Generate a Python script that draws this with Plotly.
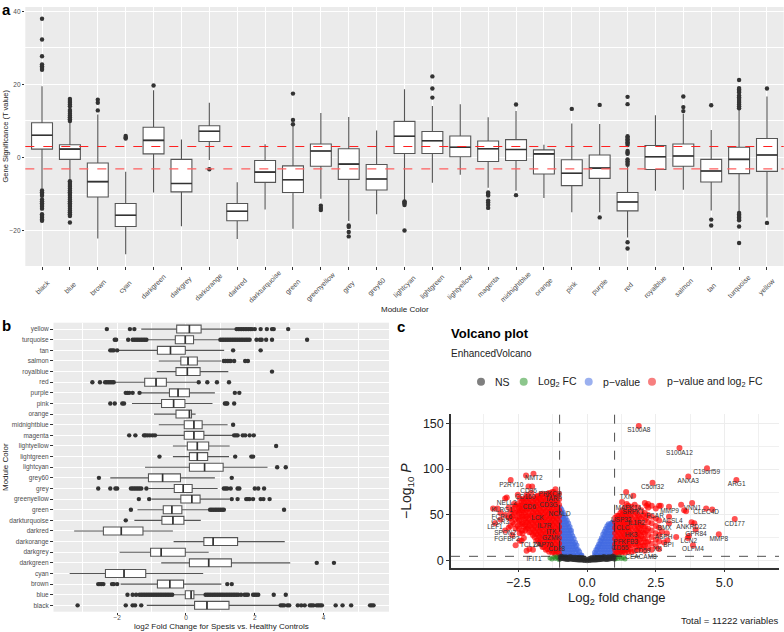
import plotly.graph_objects as go

W, H = 784, 632
# ---------- panel a data: gene significance ----------
A_CATS = ["black","blue","brown","cyan","darkgreen","darkgrey","darkorange","darkred","darkturquoise","green",
          "greenyellow","grey","grey60","lightcyan","lightgreen","lightyellow","magenta","midnightblue","orange",
          "pink","purple","red","royalblue","salmon","tan","turquoise","yellow"]
A_Q1  = [2.3,-0.5,-10.8,-18.9,1.0,-9.4,4.4,-17.3,-6.8,-9.6,-2.4,-6.0,-8.9,1.1,1.1,0.2,-1.1,-0.8,-4.5,-7.7,-5.7,-14.6,-3.3,-2.4,-6.7,-4.4,-3.8]
A_MED = [6.1,2.3,-6.6,-15.8,4.7,-7.1,7.2,-14.7,-4.0,-6.1,1.8,-1.8,-5.9,5.8,4.6,2.8,2.4,2.2,1.0,-4.3,-2.9,-12.2,0.2,0.4,-3.7,-0.5,0.7]
A_Q3  = [9.5,3.5,-1.5,-12.6,8.3,-0.5,8.7,-12.6,-0.8,-2.3,3.7,2.4,-1.9,9.9,7.1,5.9,4.5,4.9,2.1,-0.6,0.7,-9.6,3.3,3.7,-0.5,2.8,5.2]
A_LOW = [-8.5,-6.2,-22.2,-26.5,-9.6,-18.8,-0.7,-22.3,-14.2,-19.5,-11.3,-17.4,-15.5,-11.7,-6.9,-4.7,-8.3,-9.1,-11.1,-15.0,-15.0,-21.9,-9.1,-8.8,-14.5,-14.9,-16.4]
A_UP  = [19.5,9.5,11.8,-3.9,18.4,4.9,15.0,-6.8,3.6,8.9,12.2,11.1,7.4,18.7,14.1,14.6,11.0,12.7,3.5,9.3,9.2,-2.6,11.6,12.0,7.5,13.0,16.7]
A_OUT = {
 "black":[38,32.3,27.7,25.5,25,24.5,24,-9,-9.5,-10,-10.5,-11.5,-12,-12.5,-13,-13.5,-14,-15.5,-16,-16.5,-17,-17.3],
 "blue":[16,15.5,15,14.5,14,13,12.5,12,11.5,11,10.5,10,-6.5,-7,-7.5,-8,-8.5,-9,-9.5,-10,-10.5,-11,-11.5,-12,-12.5,-13,-13.5,-14,-14.5,-15,-15.5,-16,-17.8],
 "brown":[15.8,15,12.9], "cyan":[5.9,5.5,5.2], "darkgreen":[19.7], "darkorange":[-3.2],
 "green":[17.5,10.3,9.1], "greenyellow":[-13.2,-13.8,-14.4], "grey":[-18.6,-19,-20.4,-21.6],
 "lightcyan":[-12,-12.3,-12.6,-13,-20], "lightgreen":[22.2,18.9,16.4],
 "magenta":[-9.6,-10,-10.4,-11.8,-12.3,-13,-13.8], "midnightblue":[14.5,-10.3], "pink":[13.3], "purple":[14.4,-16.4],
 "red":[16.6,14.6,5.8,5.4,5,4.6,4.2,3.8,3.4,1.8,1.4,1,-0.5,-1,-1.5,-2,-23.2,-24.9],
 "salmon":[16.7,13.8,12.7], "tan":[14.3,-17,-18.6],
 "turquoise":[21.2,19,18.6,18.2,17.8,17,16.5,16,15.5,15,14.5,14,13.5,-15.2,-15.6,-16,-16.4,-16.8,-17.2,-18.9,-23.4],
 "yellow":[18.9,-17.9],
}
# ---------- panel b data: fold change ----------
B_Q1  = [0.25,-0.02,-0.83,-2.34,0.1,-1.03,0.52,-2.4,-0.7,-0.66,-0.15,-0.34,-1.09,0.1,0.1,0.04,-0.05,-0.05,-0.29,-0.71,-0.48,-1.2,-0.29,-0.15,-0.83,-0.31,-0.27]
B_MED = [0.61,0.15,-0.47,-1.8,0.66,-0.72,0.79,-1.88,-0.38,-0.41,0.17,-0.08,-0.68,0.54,0.33,0.33,0.23,0.23,0.1,-0.36,-0.23,-0.87,0.04,0.06,-0.45,-0.02,0.1]
B_Q3  = [1.25,0.23,-0.07,-1.17,1.32,-0.02,1.5,-1.25,-0.06,-0.12,0.41,0.18,-0.16,1.08,0.63,0.66,0.52,0.47,0.16,-0.03,0.1,-0.57,0.41,0.33,-0.02,0.22,0.44]
B_LOW = [-1.14,-0.35,-1.9,-3.38,-0.72,-1.93,-0.36,-3.25,-1.5,-1.41,-1.0,-1.09,-2.2,-1.19,-0.38,-0.38,-0.87,-0.79,-0.93,-1.57,-1.33,-2.05,-0.85,-0.79,-1.95,-1.14,-1.3]
B_UP  = [2.7,0.55,1.03,0.5,3.03,0.66,2.87,-0.38,0.43,0.68,1.27,0.92,0.84,2.37,1.25,1.27,1.37,1.21,0.28,0.77,0.84,0.31,1.23,1.02,1.11,0.96,1.44]
B_OUT = {
 "black":[-3.15,-1.75,-1.55,-1.48,-1.3,2.75,2.8,2.85,2.95,3.0,3.25,3.35,3.45,3.6,3.65,3.7,3.8,3.85,3.9,3.95,4.35,4.55,4.8,5.35,5.4,5.45],
 "blue":[-1.7,-1.55,-1.45,-1.35,-1.3,-1.25,-1.2,-1.15,-1.1,-1.05,-1.0,-0.95,-0.9,-0.85,-0.8,-0.75,-0.7,-0.65,-0.6,-0.55,-0.5,-0.45,-0.4,
         0.57,0.62,0.67,0.72,0.77,0.82,0.87,0.92,0.97,1.02,1.07,1.12,1.17,1.22,1.27,1.32,1.37,1.42,1.47,1.52,1.6,1.7,1.75,1.8,1.95,2.0,2.05,2.1,2.55,2.9],
 "brown":[-2.55,-2.5,-2.45,-2.4,-2.15,-2.1,-2.0,1.2,1.33],
 "darkgreen":[3.8,4.3], "darkturquoise":[-1.75],
 "green":[-1.6,0.7,0.75,0.8,0.85,0.9,0.95,1.0,1.05,1.1,2.85],
 "greenyellow":[-1.37,-1.07,1.33,1.5,1.75,1.8,1.85,1.95,2.17,2.25,2.43],
 "grey":[-2.55,-2.2,-2.05,-2.0,-1.6,-1.55,-1.5,-1.45,-1.4,-1.35,-1.3,-1.15,1.1,1.15,1.2,1.3,1.5,1.55,2.0,2.1,2.27],
 "grey60":[-2.53,1.33], "lightcyan":[2.65,2.9], "lightgreen":[-0.77,1.43,1.9,1.95], "lightyellow":[2.62],
 "magenta":[-1.65,-1.47,-1.22,-1.18,-1.12,-1.05,-0.97,-0.9,1.4,1.45,1.5,1.65,1.72,1.85,1.97],
 "midnightblue":[1.37], "pink":[-2.2,-2.07,-1.85,-1.8,1.13,1.17,1.2,1.4], "purple":[-1.75,-1.7,-1.65,-1.55,-1.35,1.42,1.55],
 "red":[-2.72,-2.5,-2.35,-2.3,-2.25,-2.2,-2.15,-2.1,0.37,0.62,0.9,1.25], "royalblue":[2.5],
 "salmon":[1.1,1.15,1.2,1.25,1.3,1.4,1.72,1.8], "tan":[-2.2,-2.15,-2.1,-2.0,1.37,2.17],
 "turquoise":[-2.07,-2.03,-1.68,-1.55,-1.5,-1.45,-1.4,-1.35,-1.3,-1.25,-1.2,-1.15,1.0,1.05,1.1,1.15,1.2,1.25,1.3,1.35,1.4,1.45,1.5,1.55,1.6,1.65,1.7,1.75,1.8,1.85,2.05,2.15,2.2,2.33,2.5,3.52],
 "yellow":[-2.3,-1.63,-1.5,1.47,1.52,1.57,1.62,1.67,1.72,1.77,1.82,1.87,1.92,2.0,2.17,2.35,2.5,2.55,2.97],
}
# ---------- panel c data: volcano (columns: x -> list of y) ----------
RED_LEFT = {
 -1.02:[8,13,19,25,31,37,43,49,55,61,67,73], -1.09:[10,16,22,28,34,40,46,52,58,64,70], -1.15:[7,12,18,24,30,36,42,48,54,60,66,72,78],
 -1.21:[10,15,21,27,33,39,45,51,57,63,69,75], -1.27:[9,15,21,27,33,39,45,51,57,63,69,75], -1.33:[12,18,24,30,36,42,48,54,60,66,72],
 -1.38:[10,16,22,28,34,40,46,52,58,64,70,74], -1.44:[13,19,25,31,37,43,49,55,61,67,73], -1.50:[12,18,24,30,36,42,48,54,60,66,72],
 -1.56:[15,21,27,33,39,45,51,57,63,69], -1.62:[15,21,27,33,39,45,51,57,63,69,73], -1.68:[18,24,30,36,42,48,54,60,66,72],
 -1.73:[20,26,32,38,44,50,56,62,68], -1.79:[23,29,35,41,47,53,59,65,71], -1.85:[22,29,35,41,47,53,59,65,70],
 -1.91:[26,32,38,44,50,56,62,68], -1.97:[12,28,34,40,46,52,58,64], -2.03:[31,37,43,49,55,61,67,74],
 -2.10:[31,38,44,50,56,62,68,13], -2.15:[36,42,49,57,63,70], -2.20:[35,42,48,55,60,66,72,11], -2.25:[33,39,46,53,60,68],
 -2.30:[37,45,52,58,64,25], -2.35:[30,40,48,55,61,67], -2.38:[33,42,50,57,64,22], -2.45:[30,40,48,55,60,68,22], -2.48:[35,44,52,58],
 -2.52:[38,46,54,62,72], -2.60:[35,45,52,60,17], -2.66:[40,50,57,62], -2.72:[42,48,55,28], -2.79:[38,52,46], -2.85:[36,47,58],
 -2.98:[33,50,68], -3.15:[45,52], -3.42:[57], -3.26:[57], -3.35:[41],
 -1.95:[95], -2.22:[93], -2.78:[88], -2.13:[81], -2.0:[81], -2.92:[69],
}
RED_RIGHT = {
 1.02:[7,12,18,24,30,36,42,47], 1.09:[9,15,21,27,33,39,45,49], 1.15:[8,13,19,25,31,37,43,49], 1.21:[10,16,22,28,34,40,46,52],
 1.27:[9,14,20,26,32,38,44,50,55,64], 1.33:[11,17,23,29,35,41,47,53], 1.38:[9,15,21,27,33,39,45,51,58], 1.44:[12,18,24,30,36,42,48,54,62],
 1.5:[10,16,22,28,34,40,46,52,60], 1.56:[13,19,25,31,37,43,49,55], 1.62:[10,17,23,29,35,41,47,53,59], 1.68:[14,20,26,32,38,44,50,56],
 1.73:[11,18,24,30,36,42,48,54,61], 1.79:[15,21,27,33,39,45,52], 1.85:[12,19,25,31,37,43,50,58], 1.91:[16,23,29,35,41,48],
 1.97:[13,20,27,33,39,46,55], 2.04:[17,24,31,38,50], 2.1:[11,17,24,30,37,44,52,63], 2.16:[20,33,47,60], 2.22:[14,21,28,35,42,50,58,62],
 2.35:[12,19,26,33,41,48,60], 2.5:[16,23,30,38,46,57], 2.62:[13,21,28,36,44,60],
 1.88:[147], 3.36:[123], 4.36:[101], 5.43:[88], 3.68:[92], 2.38:[85], 1.42:[75], 1.68:[71],
 2.68:[60], 2.98:[59,48,41], 3.42:[61], 3.82:[63], 4.33:[57], 4.55:[56], 3.53:[55], 3.6:[54], 5.37:[45.5],
 3.8:[42], 3.9:[41], 3.95:[34], 3.7:[27], 3.66:[25], 3.24:[26], 4.79:[29], 3.85:[17], 2.9:[30], 2.8:[20],
 2.92:[22.5], 2.72:[32],
}
BLUE_POINTS = {
 -0.98:[6,12,18,24,30,36,42,48,54,58], -0.93:[9,15,21,27,33,39,45,51,56], -0.88:[6,12,18,24,30,36,42,48,53],
 -0.83:[9,15,21,27,33,39,45,50], -0.78:[6,12,18,24,30,36,42,47], -0.73:[9,15,21,27,33,39,44],
 -0.68:[6,12,18,24,30,36,41], -0.63:[9,15,21,27,33,37], -0.58:[6,12,18,24,30,33], -0.53:[9,15,21,27],
 -0.48:[6,12,18,24], -0.43:[9,15,20], -0.38:[6,12,17], -0.33:[7,12], -0.28:[6,10], -0.23:[6], -0.2:[6],
 0.98:[6,12,18,24,30,36,41], 0.93:[9,15,21,27,33,39,42], 0.88:[6,12,18,24,30,36,41], 0.83:[9,15,21,27,33,39],
 0.78:[6,12,18,24,30,36,40], 0.73:[9,15,21,27,33,38], 0.68:[6,12,18,24,30,35], 0.63:[9,15,21,27,32],
 0.58:[6,12,18,24,29], 0.53:[9,15,21,25], 0.48:[6,12,18,22], 0.43:[9,15,18], 0.38:[6,12,15], 0.33:[8,12], 0.28:[6,9],
}
GREEN_POINTS = {-1.35:[3], -1.28:[2], -1.2:[4], -1.15:[2.5], -1.1:[4.5], -1.05:[3], -1.02:[1.5],
                1.02:[2], 1.06:[4], 1.12:[2.5], 1.18:[4.5], 1.25:[2.5], 1.32:[3.5], 1.38:[2]}
NS_POINTS = {
 -0.98:[2,4.5], -0.93:[3,5], -0.88:[2.5,4.5], -0.83:[2,4], -0.78:[2,4.5], -0.73:[1.5,4], -0.68:[1.5,4], -0.63:[2,4.5], -0.58:[2,4.5],
 -0.53:[1.5,3.5], -0.48:[1.5,4], -0.43:[1.2,4], -0.38:[1.2,3.5], -0.33:[1,3.5], -0.28:[1,4], -0.23:[1,3], -0.18:[0.8,3.5], -0.13:[0.5,3],
 -0.08:[0.3,2.5], 0.0:[0,1.5], 0.08:[0.4,2.5], 0.13:[0.5,3], 0.18:[0.8,3.5], 0.23:[1,3], 0.28:[1,4], 0.33:[1,3.5],
 0.38:[1.2,3.5], 0.43:[1.2,4], 0.48:[1.5,4], 0.53:[1.5,3.5], 0.58:[2,4.5], 0.63:[2,4.5], 0.68:[1.5,4], 0.73:[1.5,4], 0.78:[2,4.5],
 0.83:[2,4], 0.88:[2.5,4.5], 0.93:[3,5], 0.98:[2,4.5],
}
GENE_NAMES = ["S100A8","S100A12","C19orf59","ARG1","ANXA3","C5orf32","TXN","MMP9","VNN1","CLEC4D","CD177","ANKRD22",
              "GPR84","MMP8","LCN2","OLFM4","BPI","XK","CEACAM8","BMX","ASPH","ACSL4","SRPK1","FCAR","USP32","MAPK14",
              "NMT2","P2RY10","CD96","NELL2","KLRG1","FCRL6","CCR3","LEF1","SPON2","FGFBP2","TCL1A","IFIT1","CD160","PRKCH",
              "TARP","NCALD","LCK","IL7R","ITK","CD6","GZMK","ZAP70","CD28","CD3G","CLC","HK3","IL1R2","PFKFB3","CD55","CD59"]
GENE_X = [1.88,3.36,4.35,5.44,3.68,2.38,1.42,3.0,3.83,4.33,5.37,3.79,3.96,4.79,3.7,3.85,2.96,2.56,1.96,2.82,2.78,3.1,1.68,2.47,1.24,1.5,
          -1.94,-2.76,-2.13,-2.92,-3.09,-3.1,-3.16,-3.35,-2.98,-2.92,-2.07,-1.93,-2.25,-1.35,-1.22,-1.0,-1.8,-1.55,-1.3,-2.1,-1.3,-1.6,-1.1,-1.4,
          1.3,1.6,1.8,1.4,1.2,2.0]
GENE_Y = [142,117.5,96.5,83,86.5,80,69.5,54,57.5,52.7,40,36.7,28.7,23.6,21.5,12,16.4,12,3.3,35.6,25.8,42.5,52.7,48,43.6,57,
          90,82.5,76,63,55,47.6,41.8,36.4,30,23.6,16.7,2,69,72.7,67,51,46,38,31,58,24,17,12,60,
          35,28,41,20,14,10]
C_LEGEND = ["NS","Log<sub>2</sub> FC","p\u2212value","p\u2212value and log<sub>2</sub> FC"]
C_LEGEND_COLORS = ["#7f7f7f","#8cc68c","#9bb0ef","#f77f7f"]

# ---------- layout helpers (pixels to paper fractions) ----------
def px(x): return x / W
def py(y): return 1 - y / H
def flat(columns):
    xs, ys = [], []
    for x, vals in columns.items():
        for v in vals:
            xs.append(x); ys.append(v)
    return xs, ys
def note(text, x, y, size, xanchor="center", angle=0, color="#000000", bold=False):
    fig.add_annotation(text=f"<b>{text}</b>" if bold else text, xref="paper", yref="paper", x=px(x), y=py(y), showarrow=False,
                       xanchor=xanchor, yanchor="middle", textangle=angle, font=dict(size=size, color=color))

fig = go.Figure()
BOX = dict(fillcolor="#FFFFFF", line=dict(color="#555555", width=1.1), whiskerwidth=0, boxpoints=False, width=0.75,
           showlegend=False, hoverinfo="skip")
PT = dict(mode="markers", showlegend=False, hoverinfo="skip", marker=dict(size=4.4, color="#333333"))

# panel a
fig.add_trace(go.Box(x=A_CATS, q1=A_Q1, median=A_MED, q3=A_Q3, lowerfence=A_LOW, upperfence=A_UP, xaxis="x", yaxis="y", **BOX))
fig.add_trace(go.Scatter(x=A_CATS, y=A_MED, mode="markers", xaxis="x", yaxis="y", showlegend=False, hoverinfo="skip",
                         marker=dict(symbol="line-ew", size=15, line=dict(color="#333333", width=1.6))))
fig.add_trace(go.Scatter(x=[c for c, v in A_OUT.items() for _ in v], y=[o for v in A_OUT.values() for o in v], xaxis="x", yaxis="y", **PT))
# panel b
fig.add_trace(go.Box(y=A_CATS, q1=B_Q1, median=B_MED, q3=B_Q3, lowerfence=B_LOW, upperfence=B_UP, orientation="h", xaxis="x2", yaxis="y2", **BOX))
fig.add_trace(go.Scatter(y=A_CATS, x=B_MED, mode="markers", xaxis="x2", yaxis="y2", showlegend=False, hoverinfo="skip",
                         marker=dict(symbol="line-ns", size=5.7, line=dict(color="#333333", width=1.6))))
fig.add_trace(go.Scatter(y=[c for c, v in B_OUT.items() for _ in v], x=[o for v in B_OUT.values() for o in v], xaxis="x2", yaxis="y2", **PT))
# panel c
for name, cols, color, size in [("p-value", BLUE_POINTS, "rgba(65,105,225,0.7)", 5.5),
                                ("p-value and log2 FC", RED_LEFT, "rgba(255,0,0,0.68)", 6),
                                ("p-value and log2 FC", RED_RIGHT, "rgba(255,0,0,0.68)", 6),
                                ("Log2 FC", GREEN_POINTS, "rgba(34,139,34,0.6)", 5),
                                ("NS", NS_POINTS, "rgba(40,40,40,0.7)", 5)]:
    xs, ys = flat(cols)
    fig.add_trace(go.Scatter(x=xs, y=ys, mode="markers", name=name, xaxis="x3", yaxis="y3", showlegend=False, hoverinfo="skip",
                             marker=dict(size=size, color=color, line=dict(width=0))))
fig.add_trace(go.Scatter(x=GENE_X, y=GENE_Y, text=GENE_NAMES, mode="text", textposition="middle center", xaxis="x3", yaxis="y3",
                         showlegend=False, hoverinfo="skip", cliponaxis=False, textfont=dict(size=6.5, color="#333333")))

GG_TICK = dict(size=6.5, color="#4D4D4D")
GG_AX = dict(showgrid=True, gridcolor="#FFFFFF", gridwidth=1, zeroline=False, showline=False, ticks="outside", ticklen=2.5,
             tickcolor="#333333", tickwidth=0.7, tickfont=GG_TICK)
fig.update_layout(
    width=W, height=H, autosize=False, margin=dict(l=0, r=0, t=0, b=0), paper_bgcolor="#FFFFFF", plot_bgcolor="#EBEBEB",
    font=dict(family="Liberation Sans, Arial, sans-serif"), boxmode="overlay",
    xaxis=dict(GG_AX, domain=[px(25.3), px(783.7)], anchor="y", type="category", categoryorder="array", categoryarray=A_CATS,
               range=[-0.6, 26.6], showticklabels=False),
    yaxis=dict(GG_AX, domain=[py(266), py(7)], anchor="x", range=[-29.7, 41.2], tickvals=[-20, 0, 20, 40],
               minor=dict(tickvals=[-10, 10, 30], showgrid=True, gridcolor="#FFFFFF", gridwidth=0.5, ticks="")),
    xaxis2=dict(GG_AX, domain=[px(53.5), px(389)], anchor="y2", range=[-3.85, 5.9], tickvals=[-2, 0, 2, 4], ticklabelstandoff=-3,
                minor=dict(tickvals=[-3, -1, 1, 3, 5], showgrid=True, gridcolor="#FFFFFF", gridwidth=0.5, ticks="")),
    yaxis2=dict(GG_AX, domain=[py(611.7), py(322.7)], anchor="x2", type="category", categoryorder="array", categoryarray=A_CATS,
                range=[-0.6, 26.6]),
    xaxis3=dict(domain=[px(451), px(779)], anchor="y3", range=[-4.95, 6.98], tickvals=[-2.5, 0, 2.5, 5], tickformat=".1f",
                showgrid=True, gridcolor="#EDEDED", gridwidth=1.2, zeroline=False, showline=True, linecolor="#333333", linewidth=1.5,
                ticks="outside", ticklen=3, tickcolor="#333333", tickfont=dict(size=12.5, color="#222222"),
                minor=dict(tickvals=[-3.75, -1.25, 1.25, 3.75, 6.25], showgrid=True, gridcolor="#F0F0F0", gridwidth=0.6, ticks="")),
    yaxis3=dict(domain=[py(567.7), py(414)], anchor="x3", range=[-7.5, 160], tickvals=[0, 50, 100, 150],
                showgrid=True, gridcolor="#EDEDED", gridwidth=1.2, zeroline=False, showline=True, linecolor="#333333", linewidth=1.5,
                ticks="outside", ticklen=3, tickcolor="#333333", tickfont=dict(size=12.5, color="#222222"),
                minor=dict(tickvals=[25, 75, 125], showgrid=True, gridcolor="#F0F0F0", gridwidth=0.6, ticks="")),
)
# panel c has a white background: paint it beneath its traces
fig.add_shape(type="rect", xref="x3 domain", yref="y3 domain", x0=0, x1=1, y0=0, y1=1, fillcolor="#FFFFFF", line_width=0, layer="below")
# reference lines
fig.add_shape(type="line", xref="x domain", yref="y", x0=0, x1=1, y0=3, y1=3, line=dict(color="#FF2020", width=1.1, dash="dash"))
fig.add_shape(type="line", xref="x domain", yref="y", x0=0, x1=1, y0=-3.1, y1=-3.1, line=dict(color="#FF6060", width=1.3, dash="dash"))
for v in (-1, 1):
    fig.add_shape(type="line", xref="x3", yref="y3 domain", x0=v, x1=v, y0=0, y1=1, line=dict(color="#222222", width=0.8, dash="dash"))
fig.add_shape(type="line", xref="x3 domain", yref="y3", x0=0, x1=1, y0=4.9, y1=4.9, line=dict(color="#222222", width=0.8, dash="dash"))

# texts
for i, c in enumerate(A_CATS):
    fig.add_annotation(text=c, xref="x", yref="paper", x=c, y=py(287), showarrow=False, xanchor="center", yanchor="middle",
                       textangle=-45, font=dict(size=7, color="#4D4D4D"))
note("a", 6, 10, 15, bold=True)
note("b", 6, 325, 15, bold=True)
note("c", 401, 326, 15, bold=True)
note("Gene Significance (T value)", 4.5, 136, 7.5, angle=-90, color="#222222")
note("Module Color", 405, 309.5, 8, color="#222222")
note("Module Color", 5, 467, 8, angle=-90, color="#222222")
note("log2 Fold Change for Spesis vs. Healthy Controls", 221, 626.5, 8, color="#222222")
note("Volcano plot", 449, 333, 13, xanchor="left", bold=True)
note("EnhancedVolcano", 449, 353, 10, xanchor="left", color="#222222")
note("Total = 11222 variables", 781, 620, 9.5, xanchor="right", color="#222222")
note("Log<sub>2</sub> fold change", 617, 598, 13, color="#222222")
note("\u2212Log<sub>10</sub> <i>P</i>", 407, 491, 14, angle=-90, color="#222222")
# legend of panel c
for label, color, key_x, text_x in zip(C_LEGEND, C_LEGEND_COLORS, [481, 523.7, 588.7, 652], [495, 537.7, 602.7, 666.7]):
    fig.add_shape(type="circle", xref="paper", yref="paper", x0=px(key_x - 4), x1=px(key_x + 4), y0=py(381.7 + 4), y1=py(381.7 - 4),
                  fillcolor=color, line_width=0)
    note(label, text_x - 2, 381.7, 10.5, xanchor="left", color="#222222")

fig.write_html("out.html", config=dict(displayModeBar=False),
               post_script="document.body.style.margin='0';document.documentElement.style.overflow='hidden';")
